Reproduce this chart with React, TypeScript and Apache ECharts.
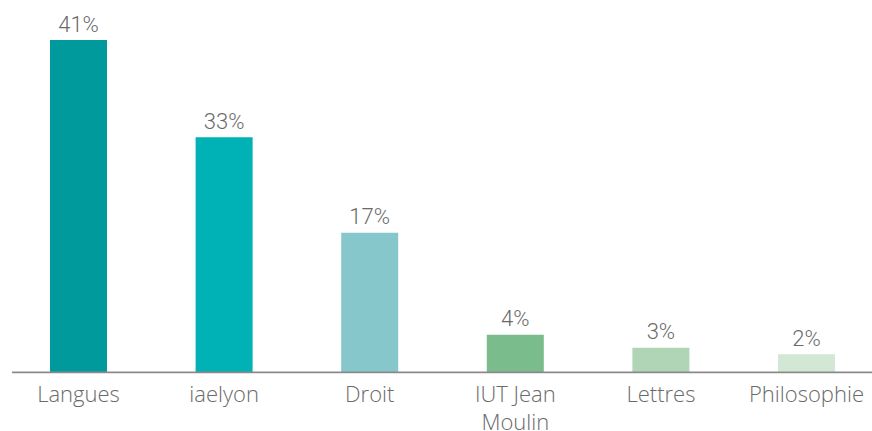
import React, { useEffect, useRef } from "react";
import * as echarts from "echarts";

const categories = ["Langues", "iaelyon", "Droit", "IUT Jean\nMoulin", "Lettres", "Philosophie"];
// bar heights (in % units of the drawn scale)
const barValues = [41, 29, 17.2, 4.6, 3, 2.2];
// percentages printed above the bars
const valueLabels = ["41%", "33%", "17%", "4%", "3%", "2%"];
const barColors = ["#009A9D", "#00B1B6", "#86C7CB", "#7ABC8B", "#AFD4B6", "#D2E8D5"];

export default function App() {
  const ref = useRef<HTMLDivElement>(null);
  useEffect(() => {
    if (!ref.current) return;
    const chart = echarts.init(ref.current, null, { renderer: "svg" });
    chart.setOption({
      animation: false,
      backgroundColor: "#ffffff",
      grid: {
        left: 5.7,
        width: 873.6,
        top: 40,
        bottom: 59,
        containLabel: false,
        outerBoundsMode: "none",
      },
      xAxis: {
        type: "category",
        data: categories,
        axisLine: { show: false },
        axisTick: { show: false },
        axisLabel: {
          interval: 0,
          margin: 7,
          color: "#6a6a6a",
          fontFamily: "Open Sans",
          fontWeight: 300,
          fontSize: 22,
          lineHeight: 28,
          hideOverlap: false,
        },
      },
      yAxis: {
        type: "value",
        min: 0,
        max: 41,
        show: false,
        splitLine: { show: false },
      },
      series: [
        {
          type: "bar",
          barWidth: 57,
          data: barValues.map((v, i) => ({ value: v, itemStyle: { color: barColors[i] } })),
          label: {
            show: true,
            position: "top",
            distance: 5,
            color: "#6a6a6a",
            fontFamily: "Roboto",
            fontWeight: 300,
            fontSize: 22,
            formatter: (p: any) => valueLabels[p.dataIndex],
          },
        },
      ],
      graphic: [
        {
          type: "line",
          shape: { x1: 12, y1: 372.3, x2: 872, y2: 372.3 },
          style: { stroke: "#8a8a8a", lineWidth: 1.8 },
          z: 100,
        },
      ],
    });
    return () => chart.dispose();
  }, []);
  return (
    <div
      ref={ref}
      style={{ position: "fixed", left: 0, top: 0, width: 872, height: 431 }}
    />
  );
}
